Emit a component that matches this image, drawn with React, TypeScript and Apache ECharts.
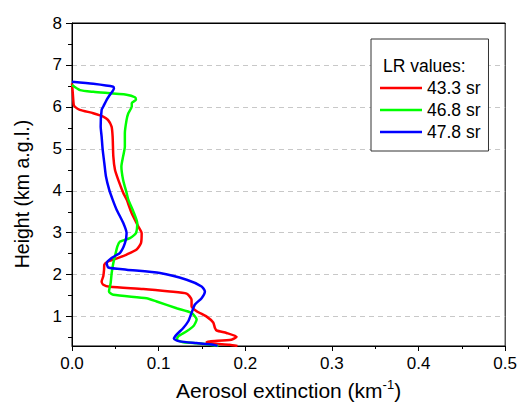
import React, { useEffect, useRef } from "react";
import * as echarts from "echarts";

const seriesNames = ["43.3 sr", "46.8 sr", "47.8 sr"];
const seriesColors = ["#ff0000", "#00ff00", "#0000ff"];

const redHeight = [6.56, 6.3, 6.05, 6.0, 5.93, 5.85, 5.77, 5.69, 5.53, 5.29, 4.82, 4.5, 4.26, 3.95, 3.79, 3.47, 3.15, 2.99, 2.75, 2.6, 2.48, 2.4, 2.32, 2.24, 2.12, 1.96, 1.84, 1.76, 1.71, 1.66, 1.6, 1.55, 1.4, 1.25, 1.13, 1.0, 0.86, 0.73, 0.67, 0.61, 0.52, 0.45, 0.41, 0.39, 0.36, 0.33, 0.3];
const redExt = [0.0, 0.001, 0.002, 0.0035, 0.009, 0.0245, 0.036, 0.0415, 0.0457, 0.0469, 0.0477, 0.0496, 0.0534, 0.0592, 0.0631, 0.0688, 0.0765, 0.0804, 0.0796, 0.0746, 0.0631, 0.0534, 0.0419, 0.0373, 0.037, 0.0361, 0.0342, 0.0361, 0.0438, 0.0823, 0.113, 0.1323, 0.138, 0.138, 0.1439, 0.1554, 0.163, 0.165, 0.167, 0.1784, 0.19, 0.184, 0.159, 0.1554, 0.163, 0.182, 0.191];

const greenHeight = [6.52, 6.4, 6.36, 6.29, 6.23, 6.17, 6.09, 6.01, 5.85, 5.69, 5.37, 5.05, 4.82, 4.58, 4.26, 3.95, 3.79, 3.47, 3.23, 2.99, 2.87, 2.79, 2.67, 2.44, 2.28, 2.04, 1.8, 1.6, 1.52, 1.44, 1.36, 1.2, 1.09, 0.93, 0.77, 0.65, 0.53, 0.45, 0.39, 0.36, 0.3];
const greenExt = [0.0, 0.0092, 0.0246, 0.063, 0.0727, 0.0738, 0.069, 0.069, 0.065, 0.063, 0.061, 0.061, 0.059, 0.057, 0.059, 0.063, 0.065, 0.0715, 0.0753, 0.0738, 0.0669, 0.0554, 0.0523, 0.0496, 0.0477, 0.0458, 0.0446, 0.0427, 0.0477, 0.0862, 0.0977, 0.1208, 0.138, 0.1439, 0.14, 0.1323, 0.1227, 0.1208, 0.1284, 0.1476, 0.169];

const blueHeight = [6.6, 6.55, 6.48, 6.44, 6.29, 6.17, 6.01, 5.93, 5.53, 5.29, 4.98, 4.66, 4.34, 4.02, 3.79, 3.55, 3.23, 2.99, 2.75, 2.52, 2.4, 2.28, 2.17, 2.12, 2.04, 1.88, 1.72, 1.6, 1.44, 1.29, 1.09, 0.89, 0.73, 0.57, 0.47, 0.41, 0.37, 0.33, 0.3];
const blueExt = [0.0, 0.0246, 0.0477, 0.0484, 0.0438, 0.04, 0.0362, 0.0342, 0.0331, 0.0342, 0.0354, 0.0373, 0.0392, 0.043, 0.0469, 0.0515, 0.0592, 0.063, 0.0611, 0.0554, 0.0457, 0.04, 0.0419, 0.063, 0.1015, 0.1323, 0.1496, 0.1534, 0.1496, 0.1419, 0.138, 0.1342, 0.1284, 0.1207, 0.1176, 0.1246, 0.1438, 0.163, 0.168];

const yMajorTicks = [1, 2, 3, 4, 5, 6, 7, 8];
const yMinorTicks = [0.5, 1.5, 2.5, 3.5, 4.5, 5.5, 6.5, 7.5];

const FONT = "Liberation Sans, Arial, Helvetica, sans-serif";

export default function App() {
  const ref = useRef<HTMLDivElement>(null);
  useEffect(() => {
    if (!ref.current) return;
    const chart = echarts.init(ref.current, null, { renderer: "svg" });
    const heights = [redHeight, greenHeight, blueHeight];
    const exts = [redExt, greenExt, blueExt];
    const series = seriesNames.map((name, i) => ({
      name,
      type: "line",
      xAxisIndex: 0,
      yAxisIndex: 0,
      data: exts[i].map((v, j) => [v, heights[i][j]]),
      showSymbol: false,
      symbol: "none",
      smooth: 0.2,
      clip: true,
      color: seriesColors[i],
      lineStyle: { width: 2.5, color: seriesColors[i] },
      z: 3 + i,
    }));
    chart.setOption({
      animation: false,
      backgroundColor: "#fff",
      textStyle: { fontFamily: FONT },
      grid: {
        left: 72,
        right: 13,
        top: 23,
        bottom: 61,
        show: true,
        borderColor: "#000",
        borderWidth: 1,
        backgroundColor: "transparent",
      },
      legend: {
        data: seriesNames,
        orient: "vertical",
        left: 371,
        top: 39,
        padding: [40, 8, 10, 9],
        itemWidth: 42,
        itemHeight: 2.5,
        itemGap: 4,
        icon: "rect",
        backgroundColor: "#fff",
        borderColor: "#333",
        borderWidth: 1,
        textStyle: { fontSize: 17.5, lineHeight: 18, color: "#000", fontFamily: FONT },
        selectedMode: false,
      },
      graphic: [
        {
          type: "text",
          left: 383,
          top: 57,
          z: 100,
          style: { text: "LR values:", fontSize: 17.5, fill: "#000", fontFamily: FONT },
        },
      ],
      xAxis: [
        {
          type: "value",
          min: 0,
          max: 0.5,
          interval: 0.1,
          name: "{a|Aerosol extinction (km}{s|-1}{a|)}",
          nameLocation: "middle",
          nameGap: 32,
          nameTextStyle: {
            rich: {
              a: { fontSize: 21, color: "#000", fontFamily: FONT, lineHeight: 24 },
              s: { fontSize: 13, color: "#000", fontFamily: FONT, verticalAlign: "top", lineHeight: 24 },
            },
          },
          axisLine: { show: true, lineStyle: { color: "#000", width: 1 } },
          axisTick: { show: true, length: 5, lineStyle: { color: "#000" } },
          minorTick: { show: true, splitNumber: 2, length: 3, lineStyle: { color: "#000" } },
          axisLabel: {
            fontSize: 17,
            color: "#000",
            margin: 9,
            formatter: (v: number) => v.toFixed(1),
          },
          splitLine: { show: false },
        },
        {
          type: "value",
          position: "top",
          min: 0,
          max: 0.5,
          z: 10,
          axisLine: { show: true, lineStyle: { color: "#000", width: 1 } },
          axisTick: { show: false },
          axisLabel: { show: false },
          splitLine: { show: false },
        },
      ],
      yAxis: [
        {
          type: "value",
          min: 0.3,
          max: 8,
          splitNumber: 8,
          name: "Height (km a.g.l.)",
          nameLocation: "middle",
          nameGap: 40,
          nameTextStyle: { fontSize: 19.5, color: "#000", fontFamily: FONT, padding: [0, 19, 0, 0] },
          axisLine: { show: true, lineStyle: { color: "#000", width: 1 } },
          axisTick: { show: true, length: 6, customValues: yMajorTicks, lineStyle: { color: "#000" } },
          axisLabel: { fontSize: 17, color: "#000", margin: 10, customValues: yMajorTicks },
          splitLine: {
            show: true,
            lineStyle: { color: "#c8c8c8", type: [5, 4], width: 1 },
          },
        },
        {
          type: "value",
          min: 0.3,
          max: 8,
          position: "left",
          axisLine: { show: false },
          axisTick: { show: true, length: 4, customValues: yMinorTicks, lineStyle: { color: "#000" } },
          axisLabel: { show: false },
          splitLine: { show: false },
        },
      ],
      series,
    });
    return () => chart.dispose();
  }, []);
  return <div ref={ref} style={{ width: 520, height: 407, position: "absolute", left: 0, top: 0 }} />;
}
